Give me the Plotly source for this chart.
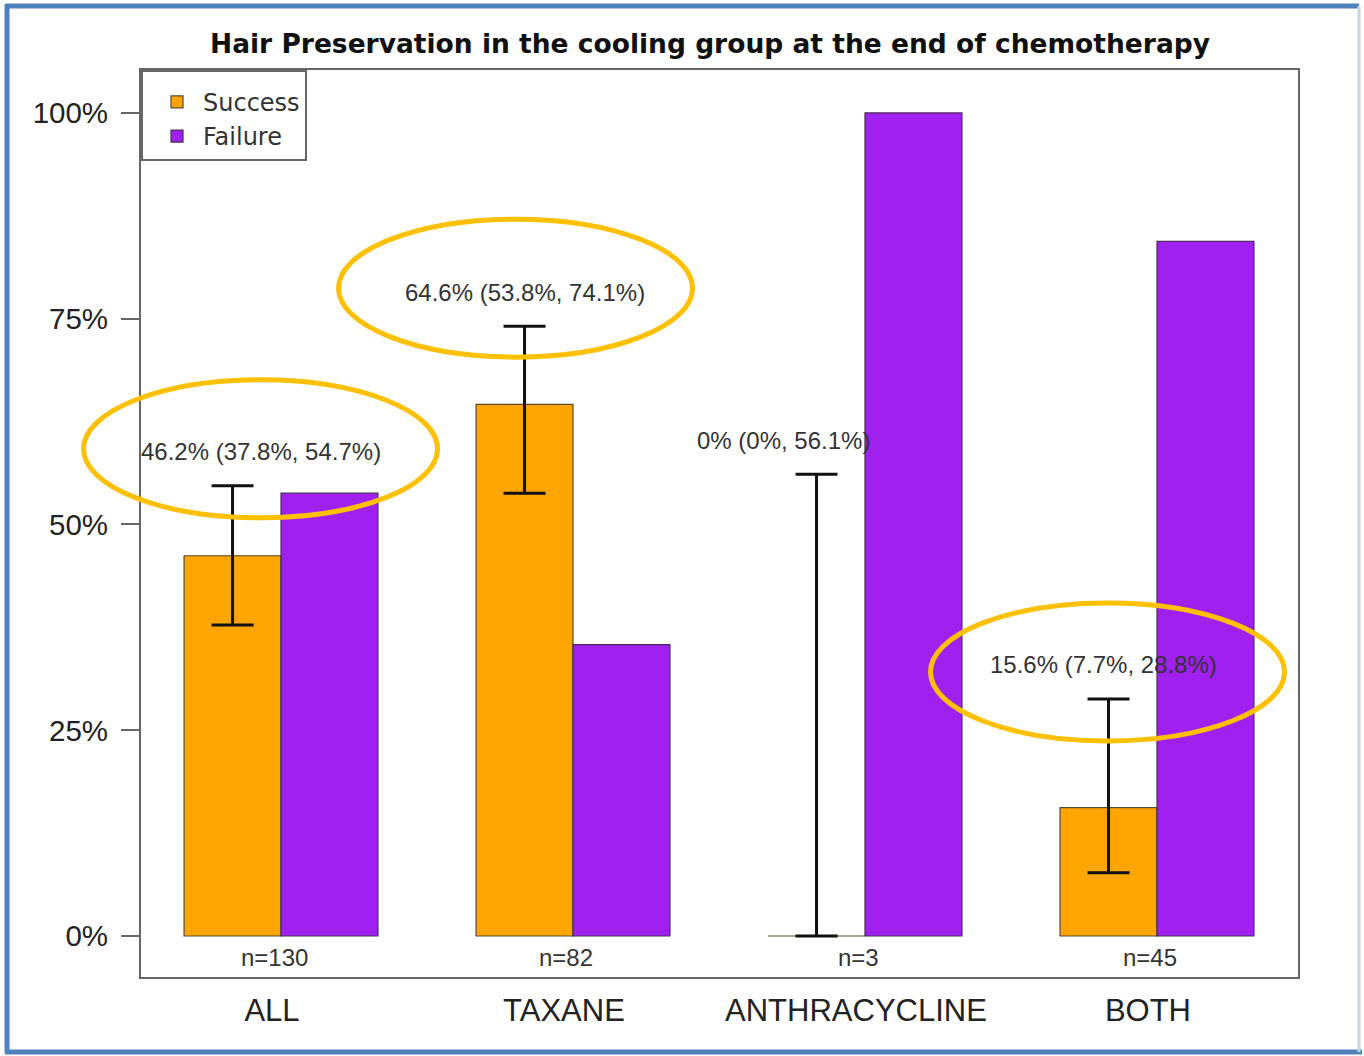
import plotly.graph_objects as go
import numpy as np

# ---- data ----
categories = ["ALL", "TAXANE", "ANTHRACYCLINE", "BOTH"]
n_counts = [130, 82, 3, 45]
success = [46.2, 64.6, 0.0, 15.6]
success_lo = [37.8, 53.8, 0.0, 7.7]
success_hi = [54.7, 74.1, 56.1, 28.8]
failure = [53.8, 35.4, 100.0, 84.4]
highlighted = [True, True, False, True]
y_ticks = [0, 25, 50, 75, 100]
y_ticktext = ["0%", "25%", "50%", "75%", "100%"]

# ---- layout constants ----
W, H = 1364, 1056
L, R, T, B = 141, 66, 70, 79
PW, PH = W - L - R, H - T - B
BARW = 0.332
XR = [-0.4795, 3.4829]
YR = [-4.98, 105.22]
TICK_SHIFT = 0.031
label_xshift = [28, 0, -33, -5]
LABEL_YSHIFT = 34
ellipse_dx = [0, -9, 0, 4]
ellipse_dy = [3, 4, 0, -7]

xpos = np.arange(len(categories))
succ_x = xpos - BARW / 2


def fmt(v):
    return f"{v:g}%"


def to_paper_x(v):
    return (v - XR[0]) / (XR[1] - XR[0])


def to_paper_y(v):
    return (v - YR[0]) / (YR[1] - YR[0])


fig = go.Figure()
fig.add_trace(go.Bar(
    x=xpos, y=success, name="Success", width=BARW, offset=-BARW,
    marker=dict(color="#FFA500", line=dict(color="#5a4a2a", width=1.2)),
    error_y=dict(type="data", symmetric=False,
                 array=[h - v for h, v in zip(success_hi, success)],
                 arrayminus=[v - l for v, l in zip(success, success_lo)],
                 color="#111111", thickness=3, width=21),
))
fig.add_trace(go.Bar(
    x=xpos, y=failure, name="Failure", width=BARW, offset=0,
    marker=dict(color="#A020F0", line=dict(color="#4a2a5a", width=1.2)),
))

annotations = []
shapes = []
for i, c in enumerate(categories):
    annotations.append(dict(
        x=succ_x[i], y=success_hi[i], xref="x", yref="y",
        text=f"{fmt(success[i])} ({fmt(success_lo[i])}, {fmt(success_hi[i])})",
        showarrow=False, yshift=LABEL_YSHIFT, xshift=label_xshift[i],
        font=dict(family="Liberation Sans", size=24, color="#333333"),
    ))
    annotations.append(dict(
        x=xpos[i], y=0, xref="x", yref="y", text=f"n={n_counts[i]}",
        showarrow=False, yshift=-21, xshift=-7,
        font=dict(family="Liberation Sans", size=24, color="#333333"),
    ))
    if highlighted[i]:
        cx = label_xshift[i] + ellipse_dx[i]
        cy = LABEL_YSHIFT + ellipse_dy[i]
        shapes.append(dict(
            type="circle", xref="paper", yref="paper",
            xsizemode="pixel", ysizemode="pixel",
            xanchor=to_paper_x(succ_x[i]), yanchor=to_paper_y(success_hi[i]),
            x0=cx - 177, x1=cx + 177, y0=cy - 69, y1=cy + 69,
            line=dict(color="#FFC000", width=5),
        ))


def px_x(p):
    return (p - L) / PW


def px_y(p):
    return 1 - (p - T) / PH


frame_blue = dict(color="#4F81BD", width=5)
shapes += [
    dict(type="line", xref="paper", yref="paper", x0=px_x(6), x1=px_x(1359),
         y0=px_y(6), y1=px_y(6), line=frame_blue, layer="below"),
    dict(type="line", xref="paper", yref="paper", x0=px_x(7), x1=px_x(7),
         y0=px_y(4), y1=px_y(1053), line=frame_blue, layer="below"),
    dict(type="line", xref="paper", yref="paper", x0=px_x(5), x1=px_x(1362),
         y0=px_y(1052), y1=px_y(1052), line=frame_blue, layer="below"),
    dict(type="line", xref="paper", yref="paper", x0=px_x(1359), x1=px_x(1359),
         y0=px_y(6), y1=px_y(1052), line=dict(color="#C8D6EA", width=3), layer="below"),
]

fig.update_layout(
    width=W, height=H,
    margin=dict(l=L, r=R, t=T, b=B),
    plot_bgcolor="white", paper_bgcolor="white",
    barmode="overlay",
    showlegend=True,
    title=dict(text="<b>Hair Preservation in the cooling group at the end of chemotherapy</b>",
               x=710 / W, xanchor="center", y=1 - 44 / H, yanchor="middle",
               font=dict(family="DejaVu Sans", size=26.5, color="#111111")),
    legend=dict(x=0, y=1, xanchor="left", yanchor="top",
                bordercolor="#666666", borderwidth=2, bgcolor="white",
                font=dict(family="DejaVu Sans", size=24, color="#333333"),
                title=dict(text=" ", font=dict(size=6)),
                indentation=8, itemwidth=42, tracegroupgap=0),
    xaxis=dict(range=XR, tickvals=xpos - TICK_SHIFT, ticktext=categories,
               showgrid=False, zeroline=False, ticks="",
               showline=True, mirror=True, linecolor="#666666", linewidth=2,
               ticklabelstandoff=5,
               tickfont=dict(family="Liberation Sans", size=31, color="#222222")),
    yaxis=dict(range=YR, tickvals=y_ticks, ticktext=y_ticktext,
               showgrid=False, zeroline=False, ticks="outside", ticklen=18,
               tickcolor="#666666", tickwidth=2, ticklabelstandoff=7,
               showline=True, mirror=True, linecolor="#666666", linewidth=2,
               tickfont=dict(family="Liberation Sans", size=29.5, color="#222222")),
    annotations=annotations,
    shapes=shapes,
)

fig.write_html("out.html", config={"displayModeBar": False},
               post_script="document.body.style.margin='0';")
